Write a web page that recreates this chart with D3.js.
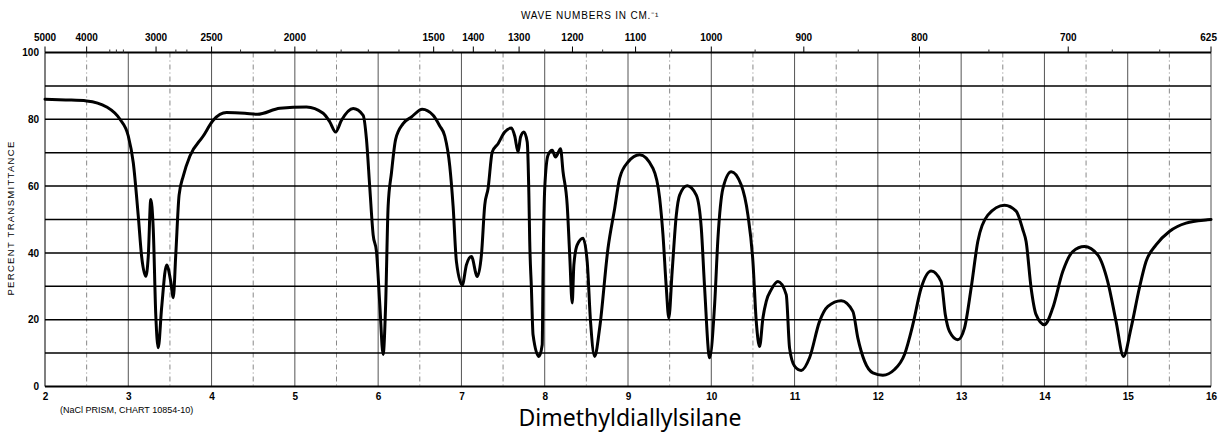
<!DOCTYPE html>
<html>
<head>
<meta charset="utf-8">
<script src="https://cdn.jsdelivr.net/npm/d3@7"></script>
<style>
  body { margin: 0; background: #fff; }
  svg { display: block; }
  text { font-family: "Liberation Sans", sans-serif; fill: #000; }
</style>
</head>
<body>
<main></main>
<script>
let svgWidth  = 1221;
let svgHeight = 434;

// plot frame
let plotLeft = 45, plotRight = 1211, plotTop = 52.5, plotBottom = 386.5;

// spectrum: wavelength (microns) and percent transmittance
const microns = [
  2.00, 2.25, 2.50, 2.74, 2.90, 3.00, 3.06, 3.12, 3.16, 3.21, 3.24, 3.27, 3.30, 3.33, 3.36, 3.40,
  3.46, 3.51, 3.54, 3.57, 3.61, 3.66, 3.74, 3.90, 4.02, 4.18, 4.40, 4.55, 4.82, 5.14, 5.34, 5.42,
  5.49, 5.56, 5.70, 5.82, 5.86, 5.90, 5.94, 5.98, 6.02, 6.06, 6.09, 6.12, 6.16, 6.21, 6.30, 6.40,
  6.53, 6.66, 6.74, 6.80, 6.86, 6.90, 6.94, 7.01, 7.06, 7.12, 7.19, 7.24, 7.28, 7.32, 7.37, 7.44,
  7.52, 7.60, 7.64, 7.68, 7.71, 7.75, 7.79, 7.81, 7.82, 7.84, 7.86, 7.93, 7.97, 7.98, 8.00, 8.04,
  8.09, 8.13, 8.19, 8.22, 8.27, 8.30, 8.33, 8.35, 8.39, 8.46, 8.51, 8.55, 8.60, 8.66, 8.76, 8.84,
  8.90, 9.00, 9.14, 9.30, 9.38, 9.42, 9.46, 9.49, 9.53, 9.58, 9.62, 9.71, 9.82, 9.88, 9.92, 9.98,
  10.04, 10.08, 10.14, 10.24, 10.36, 10.44, 10.50, 10.54, 10.58, 10.62, 10.66, 10.72, 10.80, 10.90,
  10.94, 11.00, 11.08, 11.18, 11.30, 11.40, 11.56, 11.70, 11.76, 11.84, 11.94, 12.06, 12.20, 12.32,
  12.42, 12.52, 12.64, 12.76, 12.81, 12.86, 12.96, 13.04, 13.12, 13.20, 13.32, 13.52, 13.66, 13.74,
  13.78, 13.84, 13.90, 14.00, 14.10, 14.22, 14.34, 14.48, 14.64, 14.76, 14.86, 14.95, 15.04, 15.14,
  15.22, 15.34, 15.50, 15.70, 15.96, 16.00
];
const transmittance = [
  86, 85.8, 85.5, 83.7, 80, 75, 67, 51, 39, 33, 39, 56, 47, 21.5, 11.6, 23.5,
  36.4, 31.4, 26.6, 39.4, 57.3, 63, 69, 75, 79.7, 82, 81.8, 81.5, 83.3, 83.7, 81.8, 79.2,
  76.2, 79.7, 83.2, 81.2, 74, 59.4, 45.4, 40.4, 24.5, 9.6, 24.5, 54, 64, 74, 78.7, 80.7,
  83, 81.2, 78, 75, 66, 54, 37.4, 30.4, 36.4, 38.9, 32.9, 39.4, 54.3, 59.3, 70.2, 72.7,
  76.2, 77.4, 75, 70.2, 74.7, 76.2, 73.2, 57.3, 43.4, 29.6, 15.5, 9, 12.5, 34.4, 59.3, 69.3,
  70.7, 68.7, 71.2, 64.3, 54.3, 39.4, 25, 36.4, 42.4, 44.4, 37.4, 19.5, 9, 17.6, 41.4, 53.3,
  62.4, 67.2, 69.4, 65.3, 56.4, 45.4, 29.5, 20.5, 34.4, 51.3, 57.3, 60.1, 57.3, 47.4, 29.5, 8.6,
  24.5, 44.4, 59.3, 64.3, 60.3, 51.3, 37.4, 19.5, 12, 20.5, 25.5, 29, 31.4, 27.5,
  11.5, 6.1, 4.8, 8.6, 19.5, 24, 25.7, 22.5, 14.5, 7.6, 4.1, 3.4, 5.1, 9.6,
  18.5, 29.5, 34.6, 31.4, 21.5, 16.5, 14, 17.5, 29.5, 43.4, 51.3, 54.3, 52.5, 47,
  43.4, 29.5, 21.5, 18.5, 23.5, 34.4, 40.4, 41.9, 39.4, 31.4, 19.5, 9, 17.5, 29.5,
  37.4, 42.4, 46.4, 48.9, 49.9, 50
];

const micronTicks  = [2, 3, 4, 5, 6, 7, 8, 9, 10, 11, 12, 13, 14, 15, 16];
const percentTicks = [0, 20, 40, 60, 80, 100];
const waveTicks    = [5000, 4000, 3000, 2500, 2000, 1500, 1400, 1300, 1200, 1100, 1000, 900, 800, 700, 625];
const minorWaves   = [3600, 3500, 3400, 2800, 2700, 2300, 2100, 1900, 1800, 1700, 1600, 1450, 1350, 1250,
                      1150, 1050, 950, 850, 750, 675, 650];

var data = microns.map(function(m, i) { return { x: m, y: transmittance[i] }; });

var x = d3.scaleLinear().domain([2, 16]).range([plotLeft, plotRight]);
var y = d3.scaleLinear().domain([0, 100]).range([plotBottom, plotTop]);

var svg = d3.select("body main")
  .append('svg')
  .attr('width', svgWidth)
  .attr('height', svgHeight);

// vertical grid: whole microns solid, half microns dashed
var halves = d3.range(2, 16.01, 0.5);
svg.append('g')
  .selectAll('line')
  .data(halves)
  .enter()
  .append('line')
    .attr('x1', function(d) { return x(d); })
    .attr('x2', function(d) { return x(d); })
    .attr('y1', y(100))
    .attr('y2', y(0))
    .attr('stroke', function(d) { return (d % 1 === 0) ? '#555' : '#888'; })
    .attr('stroke-width', function(d) { return (d === 2) ? 1.5 : 1; })
    .attr('stroke-dasharray', function(d) { return (d % 1 === 0) ? null : '5,3,1,3'; });

// horizontal grid every 10 percent
svg.append('g')
  .selectAll('line')
  .data(d3.range(0, 101, 10))
  .enter()
  .append('line')
    .attr('x1', x(2))
    .attr('x2', x(16))
    .attr('y1', function(d) { return y(d); })
    .attr('y2', function(d) { return y(d); })
    .attr('stroke', '#000')
    .attr('stroke-width', function(d) { return (d === 0 || d === 100) ? 2 : 1.5; });

// bottom axis: microns
var bottomAxis = svg.append('g')
  .attr('transform', 'translate(0,' + plotBottom + ')')
  .call(d3.axisBottom(x).tickValues(micronTicks).tickSize(0).tickPadding(6).tickFormat(d3.format('d')));
bottomAxis.select('.domain').remove();
bottomAxis.selectAll('text')
  .attr('font-size', '10px')
  .attr('font-weight', 'bold')
  .attr('font-family', '"Liberation Sans", sans-serif');

// left axis: percent
var leftAxis = svg.append('g')
  .attr('transform', 'translate(' + plotLeft + ',0)')
  .call(d3.axisLeft(y).tickValues(percentTicks).tickSize(0).tickPadding(6));
leftAxis.select('.domain').remove();
leftAxis.selectAll('text')
  .attr('font-size', '10px')
  .attr('font-weight', 'bold')
  .attr('font-family', '"Liberation Sans", sans-serif');

// top axis: wave numbers in cm-1, placed at 10000/n microns
var wx = function(n) { return x(10000 / n); };
svg.append('g')
  .selectAll('line')
  .data(minorWaves)
  .enter()
  .append('line')
    .attr('x1', function(d) { return wx(d); })
    .attr('x2', function(d) { return wx(d); })
    .attr('y1', plotTop - 3)
    .attr('y2', plotTop)
    .attr('stroke', '#333')
    .attr('stroke-width', 1);

svg.append('g')
  .selectAll('line')
  .data(waveTicks)
  .enter()
  .append('line')
    .attr('x1', function(d) { return wx(d); })
    .attr('x2', function(d) { return wx(d); })
    .attr('y1', plotTop - 6)
    .attr('y2', plotTop)
    .attr('stroke', '#000')
    .attr('stroke-width', 1);

svg.append('g')
  .selectAll('text')
  .data(waveTicks)
  .enter()
  .append('text')
    .attr('x', function(d) { return wx(d); })
    .attr('y', 41)
    .attr('text-anchor', function(d) { return d === 625 ? 'end' : 'middle'; })
    .attr('dx', function(d) { return d === 625 ? 6 : 0; })
    .attr('font-size', '10px')
    .attr('font-weight', 'bold')
    .text(function(d) { return d; });

svg.append('text')
  .attr('x', 590)
  .attr('y', 19)
  .attr('text-anchor', 'middle')
  .attr('font-size', '10px')
  .attr('letter-spacing', '0.8px')
  .text('WAVE  NUMBERS  IN  CM.\u207B\u00B9');

// axis title
svg.append('text')
  .attr('transform', 'translate(14,' + 218 + ') rotate(-90)')
  .attr('text-anchor', 'middle')
  .attr('font-size', '9.5px')
  .attr('letter-spacing', '1.3px')
  .text('PERCENT  TRANSMITTANCE');

svg.append('text')
  .attr('x', 60)
  .attr('y', 413)
  .attr('font-size', '9px')
  .text('(NaCl  PRISM,  CHART  10854-10)');

svg.append('text')
  .attr('x', 630)
  .attr('y', 426)
  .attr('text-anchor', 'middle')
  .attr('font-size', '23px')
  .style('font-family', '"Noto Sans", sans-serif')
  .text('Dimethyldiallylsilane');

// the trace
var line = d3.line()
  .x(function(d) { return x(d.x); })
  .y(function(d) { return y(d.y); })
  .curve(d3.curveMonotoneX);

svg.append('path')
  .datum(data)
  .attr('d', line)
  .attr('fill', 'none')
  .attr('stroke', '#000')
  .attr('stroke-width', 3)
  .attr('stroke-linejoin', 'round')
  .attr('stroke-linecap', 'round');
</script>
</body>
</html>
